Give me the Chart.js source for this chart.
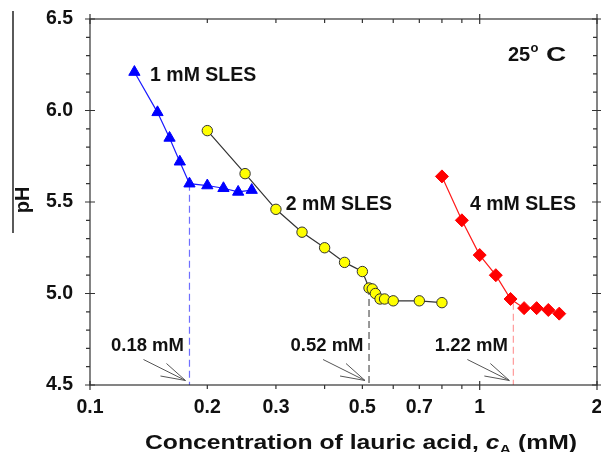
<!DOCTYPE html>
<html><head><meta charset="utf-8">
<script src="https://cdn.jsdelivr.net/npm/chart.js@4.4.1/dist/chart.umd.min.js"></script>
<style>html,body{margin:0;padding:0;background:#fff}#wrap{width:601px;height:452px;position:relative}</style>
</head><body><div id="wrap"><canvas id="c" width="601" height="452"></canvas></div>
<script>
// ---- data ----
const sles1X = [0.13, 0.149, 0.16, 0.17, 0.18, 0.20, 0.22, 0.24, 0.26];
const sles1Y = [6.21, 5.99, 5.85, 5.72, 5.60, 5.59, 5.575, 5.555, 5.565];
const sles2X = [0.20, 0.25, 0.30, 0.35, 0.40, 0.45, 0.50, 0.52, 0.53, 0.54, 0.555, 0.57, 0.60, 0.70, 0.80];
const sles2Y = [5.89, 5.655, 5.46, 5.335, 5.25, 5.17, 5.12, 5.03, 5.025, 5.00, 4.97, 4.97, 4.96, 4.96, 4.95];
const sles4X = [0.80, 0.90, 1.00, 1.10, 1.20, 1.30, 1.40, 1.50, 1.60];
const sles4Y = [5.64, 5.40, 5.21, 5.10, 4.97, 4.92, 4.92, 4.91, 4.89];
const breakX = [0.18, 0.52, 1.22];
const breakTopY = [5.60, 5.03, 4.95];
const breakLabels = ['0.18 mM', '0.52 mM', '1.22 mM'];
const seriesLabels = ['1 mM SLES', '2 mM SLES', '4 mM SLES'];
const seriesLabelX = [0.1426, 0.318, 0.944];
const seriesLabelY = [6.19, 5.484, 5.484];
const xTickValues = [0.1, 0.2, 0.3, 0.5, 0.7, 1, 2];
const xMinorValues = [0.2, 0.3, 0.4, 0.5, 0.6, 0.7, 0.8, 0.9];
const xMajorValues = [0.1, 1, 2];
const yTickValues = [4.5, 5.0, 5.5, 6.0, 6.5];
const yMinorValues = [4.6, 4.7, 4.8, 4.9, 5.1, 5.2, 5.3, 5.4, 5.6, 5.7, 5.8, 5.9, 6.1, 6.2, 6.3, 6.4];
const yMin = 4.5, yMax = 6.5, xMin = 0.1, xMax = 2;

const FONT = 'Liberation Sans, Arial, Helvetica, sans-serif';
const pts = (xs, ys) => xs.map((x, i) => ({x: x, y: ys[i]}));
const vline = (x, y0) => [{x: x, y: y0}, {x: x, y: yMin}];
const noPad = s => { s.paddingTop = 0; s.paddingBottom = 0; s.paddingLeft = 0; s.paddingRight = 0; };

// fixed plot-area box (pixels of the 601x452 canvas)
const AREA = {left: 90, right: 597, top: 19, bottom: 385};

const fixArea = {
  id: 'fixArea',
  afterLayout(chart) {
    const ca = chart.chartArea;
    Object.assign(ca, AREA, {width: AREA.right - AREA.left, height: AREA.bottom - AREA.top});
    const xs = chart.scales.x, ys = chart.scales.y;
    Object.assign(xs, {left: AREA.left, right: AREA.right, width: AREA.right - AREA.left,
                       top: AREA.bottom, bottom: chart.height, height: chart.height - AREA.bottom});
    Object.assign(ys, {left: 0, right: AREA.left, width: AREA.left,
                       top: AREA.top, bottom: AREA.bottom, height: AREA.bottom - AREA.top});
    xs.configure(); ys.configure();
  }
};

const deco = {
  id: 'deco',
  afterDraw(chart) {
    const ctx = chart.ctx;
    const {left, right, top, bottom} = chart.chartArea;
    const xs = chart.scales.x, ys = chart.scales.y;
    ctx.save();
    // frame
    ctx.strokeStyle = '#333';
    ctx.lineWidth = 1.2;
    ctx.strokeRect(left, top, right - left, bottom - top);
    ctx.beginPath();
    yMinorValues.forEach(v => {
      const p = ys.getPixelForValue(v);
      ctx.moveTo(left - 4, p); ctx.lineTo(left, p);
      ctx.moveTo(right - 4, p); ctx.lineTo(right, p);
    });
    yTickValues.forEach(v => {
      const p = ys.getPixelForValue(v);
      ctx.moveTo(left - 5, p); ctx.lineTo(left + 5, p);
      ctx.moveTo(right - 5, p); ctx.lineTo(right + 5, p);
    });
    xMinorValues.forEach(v => {
      const p = xs.getPixelForValue(v);
      ctx.moveTo(p, bottom); ctx.lineTo(p, bottom + 4);
      ctx.moveTo(p, top); ctx.lineTo(p, top + 4);
    });
    xMajorValues.forEach(v => {
      const p = xs.getPixelForValue(v);
      ctx.moveTo(p, bottom - 4); ctx.lineTo(p, bottom + 5);
      ctx.moveTo(p, top - 5); ctx.lineTo(p, top + 5);
    });
    ctx.stroke();

    // stray vertical line at far left (as in reference)
    ctx.strokeStyle = '#000';
    ctx.lineWidth = 1.3;
    ctx.beginPath(); ctx.moveTo(13, 11); ctx.lineTo(13, 233); ctx.stroke();

    // arrows + break labels
    ctx.strokeStyle = '#555';
    ctx.lineWidth = 1;
    ctx.fillStyle = '#111';
    ctx.font = 'bold 18.5px ' + FONT;
    ctx.textAlign = 'center';
    ctx.textBaseline = 'middle';
    breakX.forEach((bx, i) => {
      const dx = xs.getPixelForValue(bx);
      const tx = dx - 4, ty = bottom - 4.5;
      ctx.beginPath();
      [[-42, -21], [-19, -17], [-25, -4.5]].forEach(o => {
        ctx.moveTo(tx + o[0], ty + o[1]); ctx.lineTo(tx, ty);
      });
      ctx.stroke();
      ctx.fillText(breakLabels[i], dx - 42, bottom - 39);
    });

    // series labels
    ctx.font = 'bold 19.5px ' + FONT;
    ctx.textAlign = 'left';
    seriesLabels.forEach((s, i) => {
      ctx.fillText(s, xs.getPixelForValue(seriesLabelX[i]), ys.getPixelForValue(seriesLabelY[i]));
    });

    // 25 °C
    ctx.textBaseline = 'alphabetic';
    ctx.font = 'bold 20px ' + FONT;
    ctx.fillText('25', 508, 61);
    ctx.font = 'bold 13px ' + FONT;
    ctx.fillText('o', 530.5, 52);
    ctx.save();
    ctx.translate(546, 61);
    ctx.scale(1.4, 1);
    ctx.font = 'bold 20px ' + FONT;
    ctx.fillText('C', 0, 0);
    ctx.restore();

    // y title
    ctx.save();
    ctx.translate(23, 200);
    ctx.rotate(-Math.PI / 2);
    ctx.textAlign = 'center';
    ctx.textBaseline = 'middle';
    ctx.font = 'bold 20px ' + FONT;
    ctx.fillText('pH', 0, 0);
    ctx.restore();

    // x title with italic c and subscript A
    const parts = [
      ['Concentration of lauric acid, ', 'bold 20px ' + FONT, 0],
      ['c', 'italic bold 20px ' + FONT, 0],
      ['A', 'bold 13px ' + FONT, 5],
      [' (mM)', 'bold 20px ' + FONT, 0]
    ];
    let W = 0;
    parts.forEach(p => { ctx.font = p[1]; W += ctx.measureText(p[0]).width; });
    const sx = 432 / W;
    ctx.save();
    ctx.translate(145, 449);
    ctx.scale(sx, 1);
    ctx.textAlign = 'left';
    let cx = 0;
    parts.forEach(p => { ctx.font = p[1]; ctx.fillText(p[0], cx, p[2]); cx += ctx.measureText(p[0]).width; });
    ctx.restore();
    ctx.restore();
  }
};

new Chart(document.getElementById('c'), {
  type: 'scatter',
  data: {
    datasets: [
      {data: pts(sles1X, sles1Y), showLine: true, borderColor: '#1a1aff', backgroundColor: '#0000ff',
       borderWidth: 1.2, pointStyle: 'triangle', pointRadius: 6.5, pointBorderWidth: 1, pointBorderColor: '#0000ff', order: 1},
      {data: pts(sles2X, sles2Y), showLine: true, borderColor: '#333', backgroundColor: '#ffff00',
       borderWidth: 1.2, pointStyle: 'circle', pointRadius: 5.2, pointBorderWidth: 1, pointBorderColor: '#333', order: 1},
      {data: pts(sles4X, sles4Y), showLine: true, borderColor: '#ff1a1a', backgroundColor: '#ff0000',
       borderWidth: 1.2, pointStyle: 'rectRot', pointRadius: 6.5, pointBorderWidth: 1, pointBorderColor: '#ff0000', order: 1},
      {data: vline(breakX[0], breakTopY[0]), showLine: true, borderColor: '#6f6fff', borderDash: [7, 4], borderWidth: 1.2, pointRadius: 0, order: 5},
      {data: vline(breakX[1], breakTopY[1]), showLine: true, borderColor: '#555', borderDash: [7, 4], borderWidth: 1.2, pointRadius: 0, order: 5},
      {data: vline(breakX[2], breakTopY[2]), showLine: true, borderColor: '#ff9a9a', borderDash: [7, 4], borderWidth: 1.2, pointRadius: 0, order: 5}
    ]
  },
  options: {
    responsive: false,
    animation: false,
    events: [],
    layout: {padding: {top: 19, right: 4, left: 0, bottom: 0}},
    plugins: {legend: {display: false}, tooltip: {enabled: false}},
    scales: {
      x: {
        type: 'logarithmic', min: xMin, max: xMax,
        afterBuildTicks: s => { s.ticks = xTickValues.map(v => ({value: v})); },
        afterFit: s => { s.height = 67; noPad(s); },
        grid: {display: false, drawTicks: false},
        border: {display: false},
        ticks: {autoSkip: false, maxRotation: 0, minRotation: 0, padding: 11, color: '#111',
                font: {family: FONT, weight: 'bold', size: 19.5},
                callback: v => String(v)}
      },
      y: {
        type: 'linear', min: yMin, max: yMax,
        afterBuildTicks: s => { s.ticks = yTickValues.map(v => ({value: v})); },
        afterFit: s => { s.width = 90; noPad(s); },
        grid: {display: false, drawTicks: false},
        border: {display: false},
        ticks: {padding: 17, color: '#111', font: {family: FONT, weight: 'bold', size: 19.5},
                callback: v => Number(v).toFixed(1)}
      }
    }
  },
  plugins: [fixArea, deco]
});
</script>
</body></html>
